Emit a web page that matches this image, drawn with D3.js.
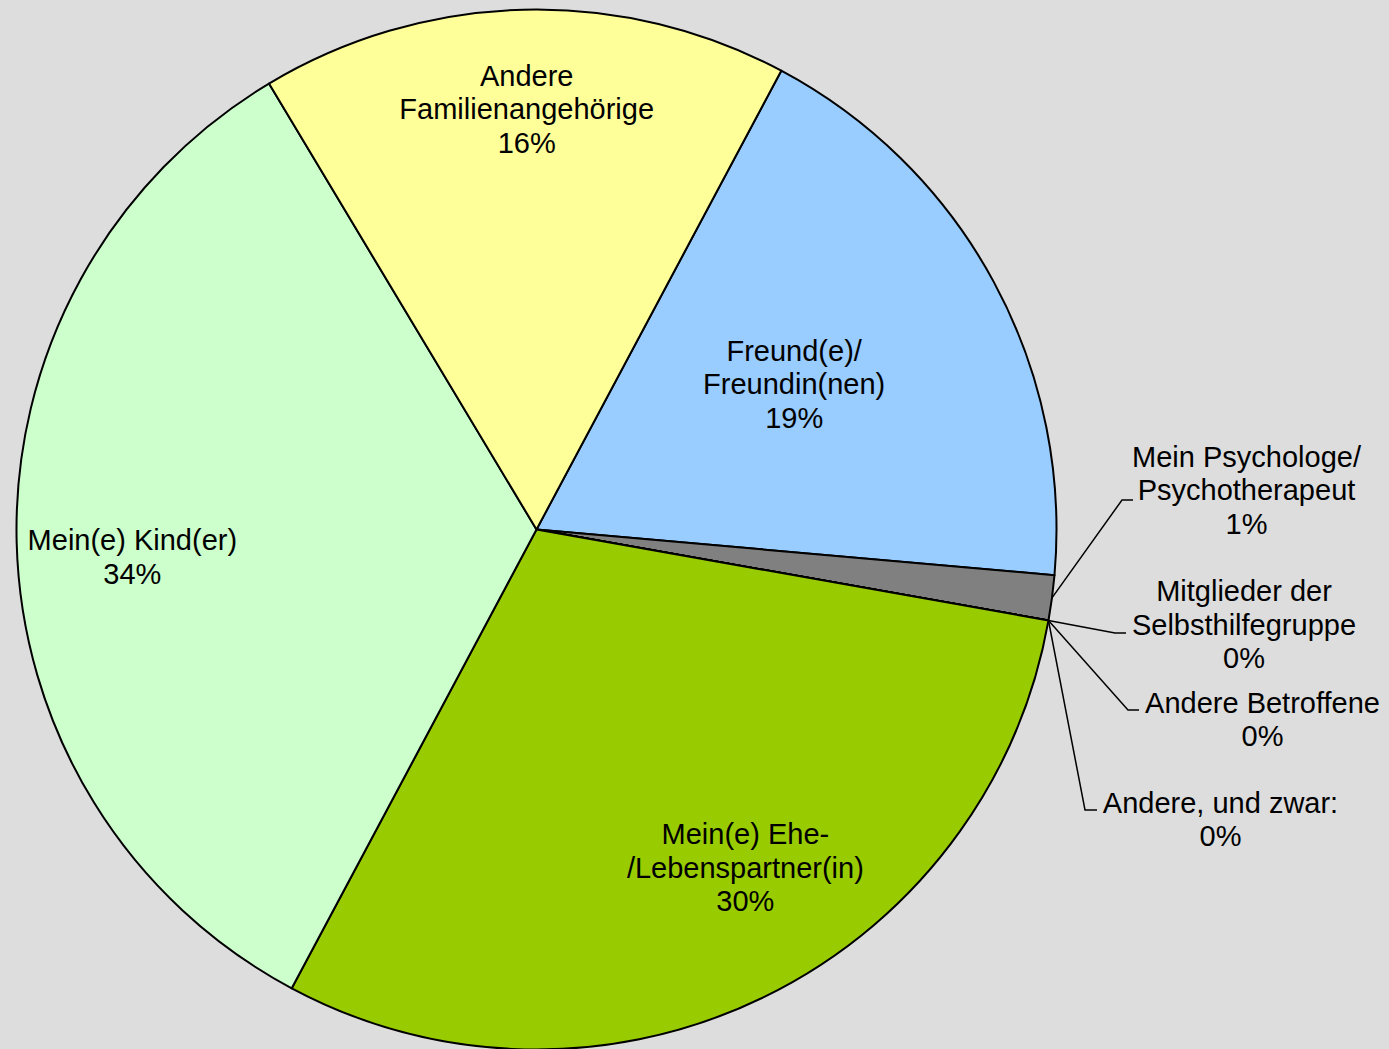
<!DOCTYPE html>
<html>
<head>
<meta charset="utf-8">
<script src="https://cdn.jsdelivr.net/npm/d3@7"></script>
<style>
  html, body { margin: 0; padding: 0; background: #DDDDDD; }
  svg { display: block; }
  text { font-family: "Liberation Sans", Arial, sans-serif; font-size: 29px; fill: #000; }
</style>
</head>
<body>
<svg id="chart" width="1389" height="1049"></svg>
<script>
// Who the respondents talk to (share of answers, %)
const categories = [
  "Freund(e)/\nFreundin(nen)",
  "Mein Psychologe/\nPsychotherapeut",
  "Mitglieder der\nSelbsthilfegruppe",
  "Andere Betroffene",
  "Andere, und zwar:",
  "Mein(e) Ehe-\n/Lebenspartner(in)",
  "Mein(e) Kind(er)",
  "Andere\nFamilienangehörige"
];
const values = [18.6, 1.4, 0, 0, 0, 30.0, 33.6, 16.4];
const colors = ["#99CCFF", "#808080", "#FFFFFF", "#FFFFFF", "#FFFFFF", "#99CC00", "#CCFFCC", "#FFFF99"];

const W = 1389, H = 1049;
const cx = 536.5, cy = 529.5, R = 520;
const startDeg = 28.08;
const rad = d => d * Math.PI / 180;

const svg = d3.select("#chart");
svg.append("rect").attr("width", W).attr("height", H).attr("fill", "#DDDDDD");

const data = categories.map((c, i) => ({ name: c, value: values[i], color: colors[i] }));
const total = d3.sum(values);
const pct = d3.format(".0%");

const pie = d3.pie().value(d => d.value).sort(null)
  .startAngle(rad(startDeg)).endAngle(rad(startDeg) + 2 * Math.PI);
const arcs = pie(data);
const arc = d3.arc().innerRadius(0).outerRadius(R);

const g = svg.append("g").attr("transform", `translate(${cx},${cy})`);

g.selectAll("path.slice").data(arcs).join("path")
  .attr("class", "slice")
  .attr("d", arc)
  .attr("fill", d => d.data.color)
  .attr("stroke", "#000")
  .attr("stroke-width", 2)
  .attr("stroke-linejoin", "round");

// point on a circle of radius r at angle a (clockwise from 12 o'clock)
const polar = (a, r) => [r * Math.sin(a), -r * Math.cos(a)];
const midA = d => (d.startAngle + d.endAngle) / 2;

const lineH = 33.5;
function drawLabel(x, yCenter, d, anchor) {
  const lines = d.data.name.split("\n").concat([pct(d.data.value / total)]);
  const y0 = yCenter - (lines.length - 1) * lineH / 2;
  const t = g.append("text").attr("text-anchor", anchor || "middle");
  lines.forEach((s, i) => {
    t.append("tspan").attr("x", x).attr("y", y0 + i * lineH + 10.4).text(s);
  });
}

// inside labels: radius factor and angular nudge (degrees) from the slice middle
const inside = {
  0: { k: 0.569, shift: -1.0 },
  5: { k: 0.764, shift: -5.8 },
  6: { k: 0.779, shift: -2.4 },
  7: { k: 0.809, shift: 0.1 }
};
Object.entries(inside).forEach(([i, p]) => {
  const d = arcs[+i];
  const [x, y] = polar(midA(d) + rad(p.shift), R * p.k);
  drawLabel(x, y, d);
});

// outside labels with leader lines (elbow and label block, relative to the pie centre)
const outside = {
  1: { elbow: [585.5, -29.5], end: [596.5, -29.5], label: [710, -39.5] },
  2: { elbow: [578.5, 103.5], end: [589.5, 103.5], label: [707.5, 95] },
  3: { elbow: [591.5, 180.5], end: [602.5, 180.5], label: [726, 189.5] },
  4: { elbow: [548.5, 280.5], end: [560.5, 280.5], label: [684, 289.5] }
};
Object.entries(outside).forEach(([i, p]) => {
  const d = arcs[+i];
  const start = polar(midA(d), R);
  g.append("path")
    .attr("d", d3.line()([start, p.elbow, p.end]))
    .attr("fill", "none")
    .attr("stroke", "#000")
    .attr("stroke-width", 1.5);
  drawLabel(p.label[0], p.label[1], d);
});
</script>
</body>
</html>
